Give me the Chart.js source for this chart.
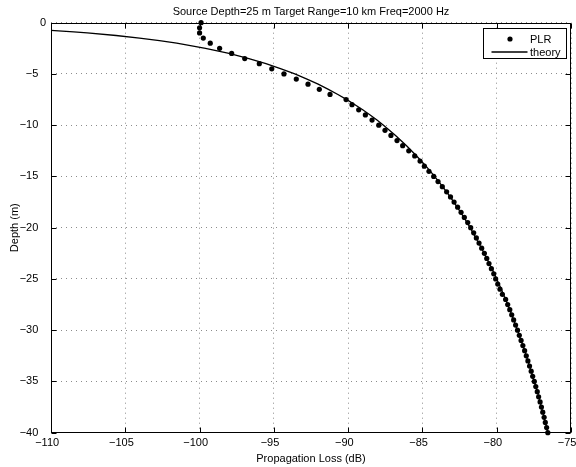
<!DOCTYPE html>
<html>
<head>
<meta charset="utf-8">
<script src="https://cdn.jsdelivr.net/npm/chart.js@4.4.1/dist/chart.umd.min.js"></script>
<style>
  html, body { margin: 0; padding: 0; background: #fff; }
  canvas { display: block; }
</style>
</head>
<body>
<canvas id="c" width="576" height="467"></canvas>
<script>
// Labels
const titleText = 'Source Depth=25 m Target Range=10 km Freq=2000 Hz';
const xTitle = 'Propagation Loss (dB)';
const yTitle = 'Depth (m)';
const seriesNames = ['PLR', 'theory'];

// Tick values
const xTicks = [-110, -105, -100, -95, -90, -85, -80, -75];
const yTicks = [-40, -35, -30, -25, -20, -15, -10, -5, 0];

// PLR model output: depth (m) and propagation loss (dB)
const plrDepth = [
  0, -0.5, -1, -1.5, -2, -2.5, -3, -3.5, -4, -4.5,
  -5, -5.5, -6, -6.5, -7, -7.5, -8, -8.5, -9, -9.5,
  -10, -10.5, -11, -11.5, -12, -12.5, -13, -13.5, -14, -14.5,
  -15, -15.5, -16, -16.5, -17, -17.5, -18, -18.5, -19, -19.5,
  -20, -20.5, -21, -21.5, -22, -22.5, -23, -23.5, -24, -24.5,
  -25, -25.5, -26, -26.5, -27, -27.5, -28, -28.5, -29, -29.5,
  -30, -30.5, -31, -31.5, -32, -32.5, -33, -33.5, -34, -34.5,
  -35, -35.5, -36, -36.5, -37, -37.5, -38, -38.5, -39, -39.5,
  -40
];
const plrLoss = [
  -99.90, -100.00, -100.00, -99.75, -99.28, -98.65, -97.84, -96.96, -95.98, -95.14,
  -94.32, -93.49, -92.70, -91.94, -91.22, -90.14, -89.74, -89.29, -88.84, -88.39,
  -87.94, -87.52, -87.12, -86.71, -86.33, -85.92, -85.52, -85.16, -84.87, -84.56,
  -84.24, -83.95, -83.66, -83.37, -83.11, -82.87, -82.63, -82.40, -82.18, -81.95,
  -81.75, -81.55, -81.37, -81.19, -81.01, -80.83, -80.67, -80.52, -80.36, -80.20,
  -80.07, -79.93, -79.78, -79.62, -79.40, -79.26, -79.12, -78.99, -78.86, -78.73,
  -78.60, -78.48, -78.36, -78.24, -78.12, -78.01, -77.90, -77.79, -77.68, -77.58,
  -77.47, -77.37, -77.27, -77.18, -77.08, -76.99, -76.90, -76.81, -76.73, -76.64,
  -76.56
];

// Theoretical curve: depth (m) and propagation loss (dB)
const theoryDepth = [
  -0.75, -0.8, -0.9, -1, -1.25, -1.5, -1.75, -2, -2.5, -3,
  -3.5, -4, -4.5, -5, -5.5, -6, -6.5, -7, -7.5, -8,
  -8.5, -9, -9.5, -10, -11, -12, -13, -14, -15, -16,
  -17, -18, -19, -20, -22, -24, -26, -28, -30, -32,
  -34, -36, -38, -40
];
const theoryLoss = [
  -110.06, -109.50, -108.47, -107.56, -105.62, -104.04, -102.70, -101.54, -99.60, -98.02,
  -96.68, -95.53, -94.51, -93.59, -92.77, -92.02, -91.33, -90.69, -90.09, -89.54,
  -89.02, -88.52, -88.06, -87.62, -86.81, -86.07, -85.39, -84.76, -84.18, -83.64,
  -83.13, -82.66, -82.21, -81.79, -81.02, -80.32, -79.69, -79.12, -78.60, -78.12,
  -77.68, -77.27, -76.90, -76.56
];

const FONT = "'Liberation Sans', Arial, Helvetica, sans-serif";

// Tick label text: typographic minus sign, with a little trailing room
function fmt(v) {
  return v < 0 ? '\u2212' + Math.abs(v) + '\u2002\u2009' : String(v);
}

// Axes box with inward tick marks on all four sides, plus the legend
const framePlugin = {
  id: 'frame',
  afterDraw(chart) {
    const { ctx, chartArea: a, scales: { x, y } } = chart;
    ctx.save();
    ctx.strokeStyle = '#000';
    ctx.lineWidth = 1;
    const L = Math.round(a.left) + 0.5, R = Math.round(a.right) - 0.5;
    const T = Math.round(a.top) + 0.5, B = Math.round(a.bottom) - 0.5;
    ctx.strokeRect(L, T, R - L, B - T);
    const tl = 5;
    ctx.beginPath();
    xTicks.forEach(v => {
      const px = Math.round(x.getPixelForValue(v)) + 0.5;
      ctx.moveTo(px, B); ctx.lineTo(px, B - tl);
      ctx.moveTo(px, T); ctx.lineTo(px, T + tl);
    });
    yTicks.forEach(v => {
      const py = Math.round(y.getPixelForValue(v)) + 0.5;
      ctx.moveTo(L, py); ctx.lineTo(L + tl, py);
      ctx.moveTo(R, py); ctx.lineTo(R - tl, py);
    });
    ctx.stroke();

    // Legend box in the upper right corner
    const bw = 83, bh = 30;
    const bx = Math.round(a.right - 5 - bw) + 0.5;
    const by = Math.round(a.top + 5) + 0.5;
    ctx.fillStyle = '#fff';
    ctx.fillRect(bx, by, bw, bh);
    ctx.strokeRect(bx, by, bw, bh);
    const ds = chart.data.datasets;
    const row1 = by + 10.5, row2 = by + 23.5;
    // marker entry
    ctx.fillStyle = ds[0].backgroundColor;
    ctx.beginPath();
    ctx.arc(bx + 26.5, row1, ds[0].pointRadius, 0, Math.PI * 2);
    ctx.fill();
    // line entry
    ctx.strokeStyle = ds[1].borderColor;
    ctx.lineWidth = ds[1].borderWidth;
    ctx.beginPath();
    ctx.moveTo(bx + 8, row2);
    ctx.lineTo(bx + 44, row2);
    ctx.stroke();
    ctx.fillStyle = '#000';
    ctx.font = '11px ' + FONT;
    ctx.textAlign = 'left';
    ctx.textBaseline = 'middle';
    ctx.fillText(ds[0].label, bx + 46.5, row1 + 0.5);
    ctx.fillText(ds[1].label, bx + 46.5, row2 + 0.5);
    ctx.restore();
  }
};

const gridStyle = { color: '#8c8c8c', lineWidth: 1, drawTicks: false };

new Chart(document.getElementById('c'), {
  type: 'scatter',
  data: {
    datasets: [
      {
        label: seriesNames[0],
        data: plrLoss.map((v, i) => ({ x: v, y: plrDepth[i] })),
        showLine: false,
        pointRadius: 2.6,
        pointHoverRadius: 2.6,
        pointBorderWidth: 0,
        backgroundColor: '#000',
        borderColor: '#000',
        clip: false,
        order: 2
      },
      {
        label: seriesNames[1],
        data: theoryLoss.map((v, i) => ({ x: v, y: theoryDepth[i] })),
        showLine: true,
        pointRadius: 0,
        pointHoverRadius: 0,
        borderColor: '#000',
        backgroundColor: '#000',
        borderWidth: 1.3,
        tension: 0,
        order: 1
      }
    ]
  },
  options: {
    responsive: false,
    animation: false,
    devicePixelRatio: 1,
    layout: { padding: { left: 0, right: 5, top: 0, bottom: 0 } },
    plugins: {
      legend: { display: false },
      tooltip: { enabled: false },
      title: {
        display: true,
        text: titleText,
        fullSize: false,
        color: '#000',
        font: { family: FONT, size: 11, weight: 'normal' },
        padding: { top: 5, bottom: 4.5 }
      }
    },
    scales: {
      x: {
        type: 'linear',
        min: -110, max: -75,
        grid: gridStyle,
        border: { display: false, dash: [1, 4] },
        afterBuildTicks: s => { s.ticks = xTicks.map(v => ({ value: v })); },
        afterFit: s => { s.height = 34.3; s.paddingLeft = 0; s.paddingRight = 0; },
        ticks: {
          autoSkip: false, maxRotation: 0, padding: 4,
          color: '#000', font: { family: FONT, size: 11 },
          callback: v => fmt(v)
        },
        title: {
          display: true, text: xTitle, color: '#000',
          font: { family: FONT, size: 11 },
          padding: { top: 0, bottom: 1.5 }
        }
      },
      y: {
        type: 'linear',
        min: -40, max: 0,
        grid: gridStyle,
        border: { display: false, dash: [1, 4] },
        afterBuildTicks: s => { s.ticks = yTicks.map(v => ({ value: v })); },
        afterFit: s => { s.width = 51; s.paddingTop = 0; s.paddingBottom = 0; },
        ticks: {
          autoSkip: false, padding: 5,
          color: '#000', font: { family: FONT, size: 11 },
          callback: v => fmt(v)
        },
        title: {
          display: true, text: yTitle, color: '#000',
          font: { family: FONT, size: 11 },
          padding: { top: 8, bottom: 0 }
        }
      }
    }
  },
  plugins: [framePlugin]
});
</script>
</body>
</html>
